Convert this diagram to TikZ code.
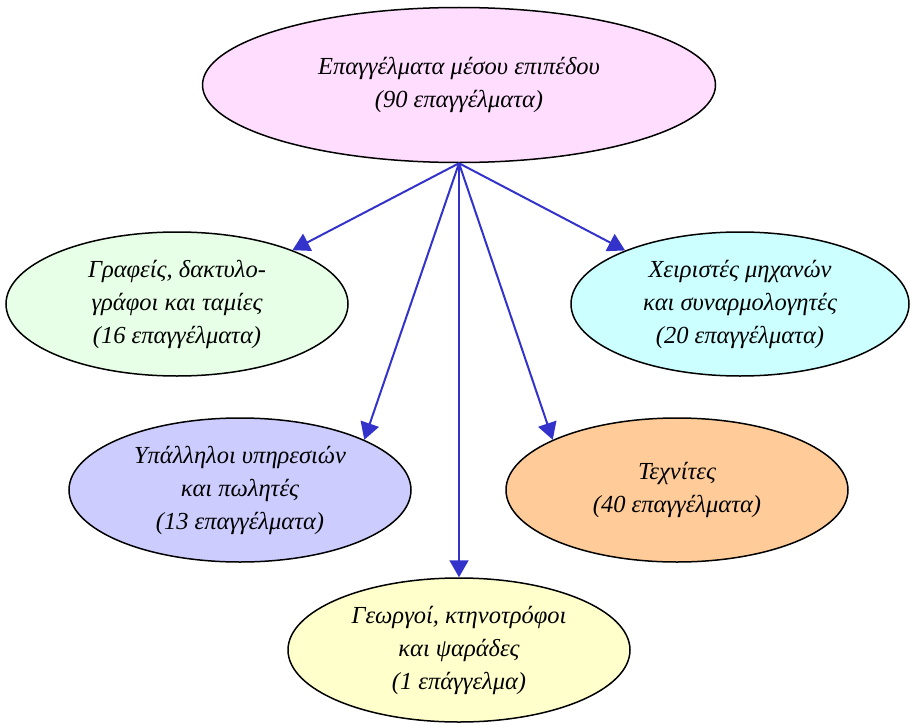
\documentclass[tikz,border=0pt]{standalone}
\usepackage{fontspec}
\setmainfont{Liberation Serif}
\usetikzlibrary{shapes.geometric,arrows.meta}
\definecolor{arrowblue}{RGB}{51,51,204}
\definecolor{cpink}{RGB}{255,221,255}
\definecolor{cgreen}{RGB}{230,255,230}
\definecolor{ccyan}{RGB}{204,255,255}
\definecolor{cblue}{RGB}{204,204,255}
\definecolor{corange}{RGB}{255,204,153}
\definecolor{cyellow}{RGB}{255,255,204}
\tikzset{
  oval/.style={ellipse, draw=black, line width=1.5pt, inner sep=0pt,
    minimum width=342pt, minimum height=144pt, align=center,
    font=\fontsize{24.5}{33}\selectfont\itshape},
  link/.style={draw=arrowblue, line width=2pt,
    -{Triangle[length=17pt,width=19pt]}}
}
\begin{document}
\begin{tikzpicture}[x=1pt,y=-1pt]
\useasboundingbox (0,0) rectangle (910,725);
\node[oval, fill=cpink, minimum width=513pt, minimum height=155pt] (top) at (459,85)
  {Επαγγέλματα μέσου επιπέδου\\(90 επαγγέλματα)};
\node[oval, fill=cgreen] (green) at (177,304)
  {Γραφείς, δακτυλο-\\γράφοι και ταμίες\\(16 επαγγέλματα)};
\node[oval, fill=ccyan, minimum width=338pt] (cyan) at (740,304)
  {Χειριστές μηχανών\\και συναρμολογητές\\(20 επαγγέλματα)};
\node[oval, fill=cblue] (blue) at (240,490)
  {Υπάλληλοι υπηρεσιών\\και πωλητές\\(13 επαγγέλματα)};
\node[oval, fill=corange] (orange) at (677,490)
  {Τεχνίτες\\(40 επαγγέλματα)};
\node[oval, fill=cyellow] (yellow) at (459,650)
  {Γεωργοί, κτηνοτρόφοι\\και ψαράδες\\(1 επάγγελμα)};
\path[link] (top.south) -- (green.25);
\path[link] (top.south) -- (cyan.155);
\path[link] (top.south) -- (blue.22);
\path[link] (top.south) -- (orange.158);
\path[link] (top.south) -- (yellow.north);
\end{tikzpicture}
\end{document}
